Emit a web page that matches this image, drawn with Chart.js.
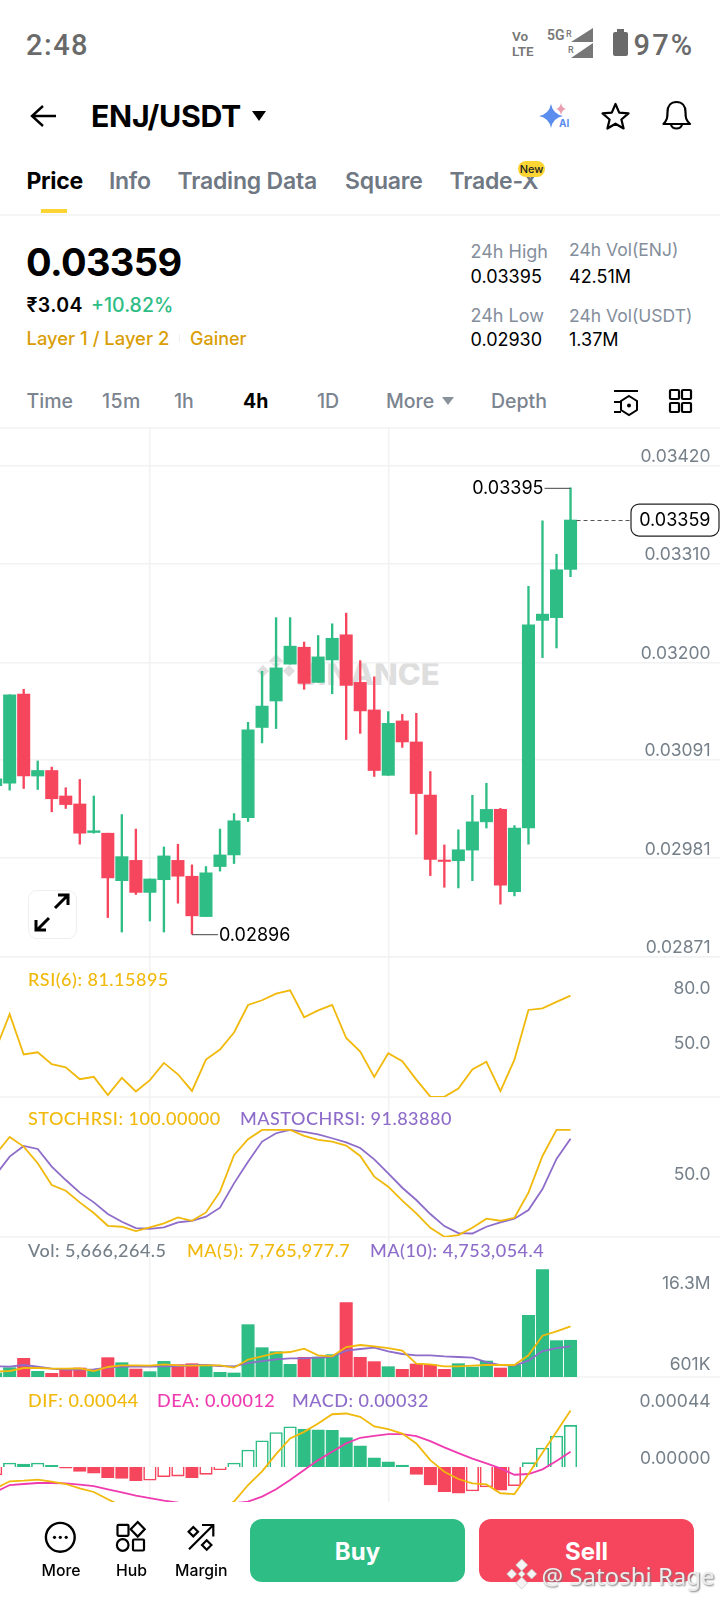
<!DOCTYPE html>
<html><head><meta charset="utf-8">
<script src="https://cdn.jsdelivr.net/npm/chart.js@4/dist/chart.umd.js"></script>
<style>
html,body{margin:0;padding:0;background:#fff;width:720px;height:1600px;overflow:hidden;font-family:Inter,"Noto Sans",sans-serif;}
#page{position:relative;width:720px;height:1600px;overflow:hidden;background:#fff;}
.t{position:absolute;white-space:nowrap;transform:translateY(-50%);line-height:1.2;}
.ln{position:absolute;left:0;width:720px;height:2px;background:#f5f5f5;}
canvas{position:absolute;left:0;}
svg{position:absolute;overflow:visible;}
.leg{font-size:18px;font-family:Lato,Inter,sans-serif;font-weight:500;letter-spacing:.5px;}
</style></head><body><div id="page">

<div class="t" style="left:26px;top:45px;font:500 29px Roboto;letter-spacing:1.5px;color:#6a6a6a">2:48</div>
<div class="t" style="left:512px;top:44px;font:600 13.5px Roboto;color:#777;line-height:15px;white-space:pre">Vo
LTE</div>
<div class="t" style="left:547px;top:35px;font:600 14px Roboto;color:#777">5G</div>
<div class="t" style="left:566px;top:34px;font:500 9px Roboto;color:#777">R</div>
<div class="t" style="left:568px;top:50px;font:500 9px Roboto;color:#777">R</div>
<svg style="left:0;top:0" width="720" height="60"><path d="M593 28V42H571ZM593 43V58H571Z" fill="#777"/><rect x="613" y="32" width="15" height="24" rx="2" fill="#6a6a6a"/><rect x="617" y="29" width="7" height="3" fill="#6a6a6a"/></svg>
<div class="t" style="left:633.5px;top:44.5px;font:500 29px Roboto;letter-spacing:2.2px;color:#6a6a6a">97%</div>

<svg style="left:0;top:0" width="720" height="140"><path d="M56 116H33M43 106L32 116L43 126" fill="none" stroke="#000" stroke-width="2.4"/><path d="M252 111H266L259 121Z" fill="#000"/>
<path d="M551 104Q553 114 563 116Q553 118 551 128Q549 118 539 116Q549 114 551 104Z" fill="#5b8def"/><path d="M561 103Q562 108 566 109Q562 110 561 115Q560 110 556 109Q560 108 561 103Z" fill="#e8a0b0"/>
<path d="M615.5 104L619.2 112.6L628.5 113.4L621.4 119.5L623.6 128.5L615.5 123.7L607.4 128.5L609.6 119.5L602.5 113.4L611.8 112.6Z" fill="none" stroke="#000" stroke-width="2.2" stroke-linejoin="round"/>
<path d="M663.5 124C667 120 667.5 118 667.5 112C667.5 106 671 102 676.5 102C682 102 685.5 106 685.5 112C685.5 118 686 120 690 124ZM671 124C671 130 682 130 682 124" fill="none" stroke="#000" stroke-width="2.2" stroke-linejoin="round"/></svg>
<div class="t" style="left:559px;top:123px;font:700 10px Inter;color:#5b8def">AI</div>
<div class="t" style="left:91px;top:116px;font:700 30.3px Inter;color:#000;letter-spacing:-.3px">ENJ/USDT</div>

<div class="t" style="left:26.5px;top:181px;font:700 23px Inter;color:#000;letter-spacing:-.3px">Price</div>
<div class="t" style="left:109px;top:181px;font:600 23px Inter;color:#6f7883;letter-spacing:-.3px">Info</div>
<div class="t" style="left:177.5px;top:181px;font:600 23px Inter;color:#6f7883;letter-spacing:-.2px">Trading Data</div>
<div class="t" style="left:345px;top:181px;font:600 23px Inter;color:#6f7883;letter-spacing:-.2px">Square</div>
<div class="t" style="left:449.5px;top:181px;font:600 23px Inter;color:#6f7883;letter-spacing:-.2px">Trade-X</div>
<div style="position:absolute;left:518px;top:161px;width:27px;height:16px;border-radius:8px;background:#fcd535;color:#222;font:500 11px Inter;text-align:center;line-height:16px">New</div>
<div style="position:absolute;left:41px;top:209px;width:26px;height:4px;background:#fcd535"></div>
<div class="ln" style="top:214px"></div>

<div class="t" style="left:26px;top:262px;font:700 38px Inter;color:#000;letter-spacing:-.6px">0.03359</div>
<div class="t" style="left:26.5px;top:305px;font:600 19.5px Inter;letter-spacing:.4px;color:#000">₹3.04</div>
<div class="t" style="left:91px;top:305px;font:500 19.5px Inter;color:#2ebd85">+10.82%</div>
<div class="t" style="left:26.5px;top:338px;font:500 18.4px Inter;color:#d99e06">Layer 1 / Layer 2</div>
<div style="position:absolute;left:179px;top:334px;width:1px;height:8px;background:#eee"></div>
<div class="t" style="left:190px;top:338px;font:500 18px Inter;color:#d99e06">Gainer</div>
<div class="t" style="left:470.5px;top:251px;font:400 18px Inter;color:#848e9c">24h High</div>
<div class="t" style="left:569px;top:249px;font:400 17.5px Inter;color:#848e9c">24h Vol(ENJ)</div>
<div class="t" style="left:470.5px;top:276px;font:400 18px Inter;color:#000">0.03395</div>
<div class="t" style="left:569px;top:276px;font:400 18px Inter;color:#000">42.51M</div>
<div class="t" style="left:470.5px;top:315px;font:400 18px Inter;color:#848e9c">24h Low</div>
<div class="t" style="left:569px;top:315px;font:400 17.5px Inter;color:#848e9c">24h Vol(USDT)</div>
<div class="t" style="left:470.5px;top:339px;font:400 18px Inter;color:#000">0.02930</div>
<div class="t" style="left:569px;top:339px;font:400 18px Inter;color:#000">1.37M</div>

<div class="t" style="left:26.5px;top:401px;font:500 19.5px Inter;color:#7b848f">Time</div>
<div class="t" style="left:102px;top:401px;font:500 19.5px Inter;letter-spacing:.4px;color:#7b848f">15m</div>
<div class="t" style="left:174px;top:401px;font:500 19.5px Inter;color:#7b848f">1h</div>
<div class="t" style="left:243px;top:401px;font:700 19.5px Inter;color:#000">4h</div>
<div class="t" style="left:317px;top:401px;font:500 19.5px Inter;color:#7b848f">1D</div>
<div class="t" style="left:386px;top:401px;font:500 19.5px Inter;color:#7b848f">More</div>
<div class="t" style="left:491px;top:401px;font:500 19.5px Inter;color:#7b848f">Depth</div>
<svg style="left:0;top:380px" width="720" height="40"><path d="M442 17H454L448 25Z" fill="#8a929c"/>
<path d="M614 11H638M614 22H621M614 32H621" stroke="#000" stroke-width="2"/><path d="M629 16L637 21V30L629 35L621 30V21Z" fill="none" stroke="#000" stroke-width="2"/><circle cx="629" cy="25.5" r="2" fill="#000"/>
<g fill="none" stroke="#000" stroke-width="2.2"><rect x="670" y="10" width="9" height="9" rx="1"/><rect x="682" y="10" width="9" height="9" rx="1"/><rect x="670" y="23" width="9" height="9" rx="1"/><rect x="682" y="23" width="9" height="9" rx="1"/></g></svg>

<div class="ln" style="top:427px"></div>
<div class="ln" style="top:956px"></div>
<div class="ln" style="top:1096px"></div>
<div class="ln" style="top:1236px"></div>
<div class="ln" style="top:1376px"></div>

<svg style="left:0;top:0" width="720" height="700"><g fill="#dedede"><path d="M276 654L283 661L276 668L269 661Z"/><path d="M263 665L269 671L263 677L257 671Z"/><path d="M289 665L295 671L289 677L283 671Z"/><path d="M276 666L281 671L276 676L271 671Z"/><path d="M276 674L283 681L276 688L269 681Z"/></g></svg>
<div class="t" style="left:297px;top:673px;font:800 31px Inter;color:#dedede">BINANCE</div>

<canvas id="cMain" width="720" height="530" style="top:427px;width:720px;height:530px"></canvas>
<canvas id="cRsi" width="720" height="140" style="top:957px;width:720px;height:140px"></canvas>
<canvas id="cStoch" width="720" height="140" style="top:1097px;width:720px;height:140px"></canvas>
<canvas id="cVol" width="720" height="140" style="top:1237px;width:720px;height:140px"></canvas>
<canvas id="cMacd" width="720" height="125" style="top:1377px;width:720px;height:125px"></canvas>

<div style="position:absolute;left:28px;top:890px;width:47px;height:47px;border:1.5px solid #eeeeee;border-radius:9px;background:#fff"></div>
<svg style="left:0;top:0" width="720" height="960"><path d="M55 908L67 896M58 895H68V905M49 918L37 930M36 920V930H46" fill="none" stroke="#000" stroke-width="3"/></svg>

<div class="t leg" style="left:28px;top:979.5px;color:#f0b90b">RSI(6): 81.15895</div>
<div class="t leg" style="left:28px;top:1119px;color:#f0b90b">STOCHRSI: 100.00000</div>
<div class="t leg" style="left:240px;top:1119px;color:#8e6cc9">MASTOCHRSI: 91.83880</div>
<div class="t leg" style="left:28px;top:1251px;color:#76808a">Vol: 5,666,264.5</div>
<div class="t leg" style="left:187px;top:1251px;color:#f0b90b">MA(5): 7,765,977.7</div>
<div class="t leg" style="left:370px;top:1251px;color:#8e6cc9">MA(10): 4,753,054.4</div>
<div class="t leg" style="left:28px;top:1400.5px;color:#f0b90b">DIF: 0.00044</div>
<div class="t leg" style="left:157px;top:1400.5px;color:#ee3bb0">DEA: 0.00012</div>
<div class="t leg" style="left:292px;top:1400.5px;color:#8e6cc9">MACD: 0.00032</div>

<svg style="left:0;top:1500px" width="720" height="100"><circle cx="60.3" cy="37.3" r="14.4" fill="none" stroke="#000" stroke-width="2.4"/><circle cx="54.5" cy="37.3" r="1.6"/><circle cx="60.3" cy="37.3" r="1.6"/><circle cx="66.2" cy="37.3" r="1.6"/>
<g fill="none" stroke="#000" stroke-width="2.2"><rect x="117.5" y="24.8" width="11" height="11" rx="1"/><path d="M137.7 22L144.7 29.3L137.7 36.6L130.7 29.3Z"/><circle cx="122.7" cy="45" r="5.8"/><rect x="133" y="39.5" width="11" height="11" rx="1"/>
<path d="M189 49.3L213.3 25M202 25H213.3V36.5M193.3 27L198 31.7L193.3 36.4L188.6 31.7ZM206.7 40.3L211.4 45L206.7 49.7L202 45Z"/></g></svg>
<div class="t" style="left:41.5px;top:1569.5px;font:500 15.8px Inter;color:#000">More</div>
<div class="t" style="left:116px;top:1569.5px;font:500 15.8px Inter;color:#000">Hub</div>
<div class="t" style="left:175px;top:1569.5px;font:500 15.8px Inter;color:#000">Margin</div>
<div style="position:absolute;left:250px;top:1519px;width:215px;height:63px;border-radius:12px;background:#2ebd85;color:#fff;font:700 24px Inter;text-align:center;line-height:65px">Buy</div>
<div style="position:absolute;left:479px;top:1519px;width:215px;height:63px;border-radius:12px;background:#f6465d;color:#fff;font:700 24px Inter;text-align:center;line-height:65px">Sell</div>
<svg style="left:0;top:1550px" width="720" height="50"><g fill="#f4f4f4" stroke="#bbb" stroke-width=".6"><path d="M521.7 9L527.7 15L521.7 21L515.7 15Z"/><path d="M511.7 19L516.7 24L511.7 29L506.7 24Z"/><path d="M531.7 19L536.7 24L531.7 29L526.7 24Z"/><path d="M521.7 20.5L525.2 24L521.7 27.5L518.2 24Z"/><path d="M521.7 27L527.7 33L521.7 39L515.7 33Z"/></g></svg>
<div class="t" style="left:541.5px;top:1575px;font:400 24px 'Noto Sans';color:#ececec;text-shadow:1px 1px 2px #777">@ Satoshi Rage</div>
</div>
<script>
const candleSlots=[-1,0,1,2,3,4,5,6,7,8,9,10,11,12,13,14,15,16,17,18,19,20,21,22,23,24,25,26,27,28,29,30,31,32,33,34,35,36,37,38,39,40];
const opens=[.030620,.030647,.031644,.030728,.030790,.030505,.030416,.030097,.030089,.029558,.029785,.029427,.029569,.029785,.029608,.029157,.029716,.029846,.030262,.031271,.031567,.031979,.032168,.031775,.032026,.032307,.031775,.031467,.030736,.031344,.031109,.030516,.029789,.029781,.029900,.030216,.030355,.029434,.030147,.032468,.032499,.033038];
const closes=[.030697,.031637,.030728,.030790,.030474,.030409,.030089,.030116,.029589,.029827,.029427,.029577,.029835,.029608,.029165,.029646,.029846,.030228,.031244,.031510,.031937,.032180,.031764,.032060,.032268,.031741,.031456,.030790,.031317,.031109,.030532,.029796,.029773,.029904,.030216,.030355,.029508,.030147,.032418,.032538,.033034,.033590];
const highs=[.030782,.031637,.031698,.030897,.030828,.030597,.030690,.030505,.030089,.030297,.030135,.029577,.029935,.029966,.029735,.029716,.030135,.030308,.031329,.031899,.032499,.032499,.032226,.032299,.032430,.032549,.032018,.031837,.031448,.031417,.031429,.030778,.029958,.030127,.030512,.030647,.030366,.030174,.032849,.033581,.033207,.033950];
const lows=[.030551,.030570,.030589,.030578,.030328,.030366,.029966,.030089,.029146,.028984,.029404,.029107,.028984,.029307,.028960,.029157,.029665,.029750,.030220,.031098,.031259,.031979,.031698,.031775,.031648,.031136,.031205,.030724,.030736,.031048,.030077,.029615,.029485,.029477,.029558,.030147,.029296,.029388,.029966,.032052,.032160,.032957];
const priceTicks=[.03420,.03310,.03200,.03091,.02981,.02871];
const rsi6=[51.7,71.0,49.0,50.2,43.7,42.0,35.5,36.8,26.8,36.2,28.8,35.0,44.4,38.2,29.1,46.2,51.7,61.0,76.0,78.6,82.2,84.0,69.3,73.1,76.0,58.0,50.6,36.8,49.7,45.3,35.3,26.0,25.9,30.4,40.8,45.0,29.0,46.2,73.3,74.2,77.7,81.16];
const rsiTicks=[80,50];
const stochRsi=[77.2,93.4,84.4,68.8,48.4,43.1,32.2,22.2,10.3,9.4,5.3,8.8,12.5,18.1,15.0,22.8,42.2,76.3,91.3,100,100,100,94.4,90.6,89.1,85.3,75.6,56.3,46.9,33.8,21.9,8.4,0,1.6,8.4,16.9,15.0,17.8,41.3,75.6,100,100];
const maStochRsi=[57.8,75.0,85.0,82.2,65.6,53.1,41.3,32.2,21.3,14.1,8.1,7.5,8.8,13.4,15.0,18.8,27.2,50.0,70.3,89.1,96.9,100,98.1,95.9,92.2,88.4,83.1,72.5,59.4,45.9,34.4,21.3,10.0,3.4,3.1,9.4,13.4,16.9,25.0,44.7,72.8,91.84];
const stochTicks=[50];
const volumeM=[0.74,1.54,2.95,0.99,0.69,1.34,1.49,1.24,3.05,2.29,1.34,0.94,2.49,1.99,2.14,1.89,0.84,0.74,8.02,4.55,3.95,2.04,3.10,3.15,3.50,11.33,3.10,2.45,1.69,1.29,2.09,1.99,1.29,2.14,1.64,2.54,1.49,1.99,9.42,16.3,5.61,5.67];
const volMa5=[0.94,1.04,1.49,1.49,1.39,1.39,1.44,1.04,1.64,1.89,1.89,1.84,2.04,1.89,1.84,1.89,1.89,1.54,2.75,3.25,3.75,3.90,4.40,3.40,3.25,4.65,4.95,4.75,4.50,4.10,2.14,2.04,1.74,1.74,1.84,1.94,1.94,1.94,3.40,6.36,7.01,7.77];
const volMa10=[1.74,1.69,1.94,1.69,1.39,1.24,1.24,1.29,1.54,1.69,1.69,1.69,1.74,1.79,1.94,1.94,1.79,1.74,2.24,2.54,2.79,2.95,2.95,3.05,3.15,4.10,4.35,4.55,4.00,3.60,3.40,3.40,3.25,3.15,3.05,2.39,1.94,1.84,2.60,4.05,4.50,4.75];
const volTickSlots=[0.601,12.8];
const volTickLabels=["601K","16.3M"];
const macdHist=[-6.2,3.1,2.3,3.1,1.3,-0.8,-3.4,-4.7,-8.3,-8.8,-10.6,-10.3,-7.5,-7.0,-8.3,-5.7,-2.1,3.1,13.2,20.4,26.9,31.3,29.5,29.0,28.5,23.0,16.6,7.2,4.1,1.6,-5.7,-14.0,-19.2,-20.4,-18.6,-15.5,-17.9,-14.5,3.4,14.8,24.1,32.4];
const dif=[-16.6,-11.1,-10.6,-9.8,-11.4,-13.2,-16.6,-19.4,-25.1,-30.3,-33.4,-37.3,-38.6,-38.6,-38.6,-37.3,-33.4,-26.9,-14.0,-3.4,10.1,22.3,27.4,33.9,41.1,41.7,39.1,31.6,29.5,26.1,18.4,5.4,-3.6,-9.3,-12.7,-13.5,-20.4,-21.0,-5.4,11.1,27.4,44.0];
const dea=[-19.2,-14.0,-13.2,-12.4,-12.4,-12.7,-13.7,-14.8,-17.3,-19.7,-22.3,-24.1,-26.1,-27.7,-29.5,-30.3,-29.5,-28.2,-26.9,-23.0,-17.3,-10.1,-2.3,5.4,11.9,18.4,22.8,24.3,25.6,25.6,24.1,20.2,15.3,10.9,6.5,2.8,-1.0,-6.0,-5.4,-1.8,4.7,11.9];
const macdTicks=[44,0];

const UP="#2ebd85",DOWN="#f6465d",YEL="#f0b90b",PUR="#8e6cc9",MAG="#ee3bb0",GRID="#f1f2f3",TICK="#76808a";
const XMIN=-0.69,XMAX=50.66,GRID_SLOTS=[10,27];
const pts=a=>a.map((v,i)=>({x:candleSlots[i],y:v}));
const isUp=i=>closes[i]>=opens[i];
const tickFont={family:"Inter",size:17.5,weight:"400"};

function xAxis(){return {type:"linear",min:XMIN,max:XMAX,display:true,offset:false,
  afterBuildTicks:s=>{s.ticks=GRID_SLOTS.map(v=>({value:v}));},
  afterFit:s=>{s.height=0;s.paddingLeft=0;s.paddingRight=0;},
  ticks:{display:false},border:{display:false},grid:{offset:false,color:GRID,lineWidth:1.5,drawTicks:false}};}
function yAxis(min,max,vals,fmt,grid){return {type:"linear",position:"right",min,max,
  afterBuildTicks:s=>{s.ticks=vals.map(v=>({value:v}));},
  afterFit:s=>{s.width=0;s.paddingTop=0;s.paddingBottom=0;},
  afterTickToLabelConversion:s=>{s.ticks.forEach((t,i)=>{t.label=fmt(t.value,i);});},
  ticks:{mirror:true,padding:-9.5,align:"end",color:TICK,font:tickFont,autoSkip:false,maxRotation:0},
  border:{display:false},grid:{display:grid,color:GRID,lineWidth:1.5,drawTicks:false}};}
function line(data,color,order,w){return {type:"line",data:pts(data),borderColor:color,borderWidth:w||1.8,pointRadius:0,tension:0,order:order||0,fill:false};}
function base(datasets,y,plugins){return {data:{datasets},plugins:plugins||[],options:{responsive:false,animation:false,parsing:true,
  layout:{padding:0},events:[],
  plugins:{legend:{display:false},tooltip:{enabled:false}},
  scales:{x:xAxis(),y}}};}

const priceMarks={id:"priceMarks",afterDatasetsDraw(c){
  const g=c.ctx,X=c.scales.x,Y=c.scales.y,f="400 18px Inter";
  g.save();g.font=f;g.textBaseline="middle";
  const hi=Math.max(...highs),lo=Math.min(...lows),last=closes[closes.length-1];
  const ih=highs.indexOf(hi),il=lows.indexOf(lo);
  const xh=X.getPixelForValue(candleSlots[ih]),yh=Y.getPixelForValue(hi);
  const xl=X.getPixelForValue(candleSlots[il]),yl=Y.getPixelForValue(lo);
  g.strokeStyle="#444";g.lineWidth=1;g.fillStyle="#000";
  g.beginPath();g.moveTo(xh,yh+.5);g.lineTo(xh-26,yh+.5);g.moveTo(xl,yl+.5);g.lineTo(xl+26,yl+.5);g.stroke();
  g.textAlign="right";g.fillText(hi.toFixed(5),xh-27,yh+1);
  g.textAlign="left";g.fillText(lo.toFixed(5),xl+27,yl+1);
  const xc=X.getPixelForValue(candleSlots[candleSlots.length-1]),yc=Y.getPixelForValue(last);
  g.setLineDash([4,3]);g.strokeStyle="#555";g.beginPath();g.moveTo(xc+6,yc+.5);g.lineTo(631,yc+.5);g.stroke();g.setLineDash([]);
  g.fillStyle="#fff";g.strokeStyle="#222";g.lineWidth=1.2;g.beginPath();g.roundRect(631,yc-16,88,32,8);g.fill();g.stroke();
  g.fillStyle="#000";g.textAlign="right";g.fillText(last.toFixed(5),710.5,yc+1);
  g.restore();}};

new Chart(document.getElementById("cMain"),Object.assign({type:"bar"},base([
 {data:pts(closes).map((p,i)=>({x:p.x,y:[lows[i],highs[i]]})),barThickness:1.7,grouped:false,order:2,
  backgroundColor:c=>isUp(c.dataIndex)?UP:DOWN},
 {data:pts(closes).map((p,i)=>({x:p.x,y:[opens[i],closes[i]]})),barThickness:12.4,grouped:false,order:1,
  backgroundColor:c=>isUp(c.dataIndex)?UP:DOWN}
],yAxis(.028705,.034630,priceTicks,v=>v.toFixed(5),true),[priceMarks])));

new Chart(document.getElementById("cRsi"),Object.assign({type:"line"},base([line(rsi6,YEL)],
 yAxis(25.8,102.2,rsiTicks,v=>v.toFixed(1),false))));
new Chart(document.getElementById("cStoch"),Object.assign({type:"line"},base([line(stochRsi,YEL,0),line(maStochRsi,PUR,1)],
 yAxis(-0.2,130.8,stochTicks,v=>v.toFixed(1),false))));
new Chart(document.getElementById("cVol"),Object.assign({type:"bar"},base([
 line(volMa10,PUR,1),line(volMa5,YEL,0),
 {data:pts(volumeM),barThickness:12.4,grouped:false,order:2,backgroundColor:c=>isUp(c.dataIndex)?UP:DOWN}
],yAxis(0.135,21.22,volTickSlots,(v,i)=>volTickLabels[i],false))));
const hollow=i=>i===0||macdHist[i]>macdHist[i-1];
new Chart(document.getElementById("cMacd"),Object.assign({type:"bar"},base([
 line(dif,YEL,0),line(dea,MAG,1),
 {data:pts(macdHist),barThickness:12.6,grouped:false,order:2,borderWidth:1.6,
  borderColor:c=>macdHist[c.dataIndex]>=0?UP:DOWN,
  backgroundColor:c=>hollow(c.dataIndex)?"#fff":(macdHist[c.dataIndex]>=0?UP:DOWN)}
],yAxis(-27.2,70.1,macdTicks,v=>(v/1e5).toFixed(5),false))));
</script>
</body></html>
